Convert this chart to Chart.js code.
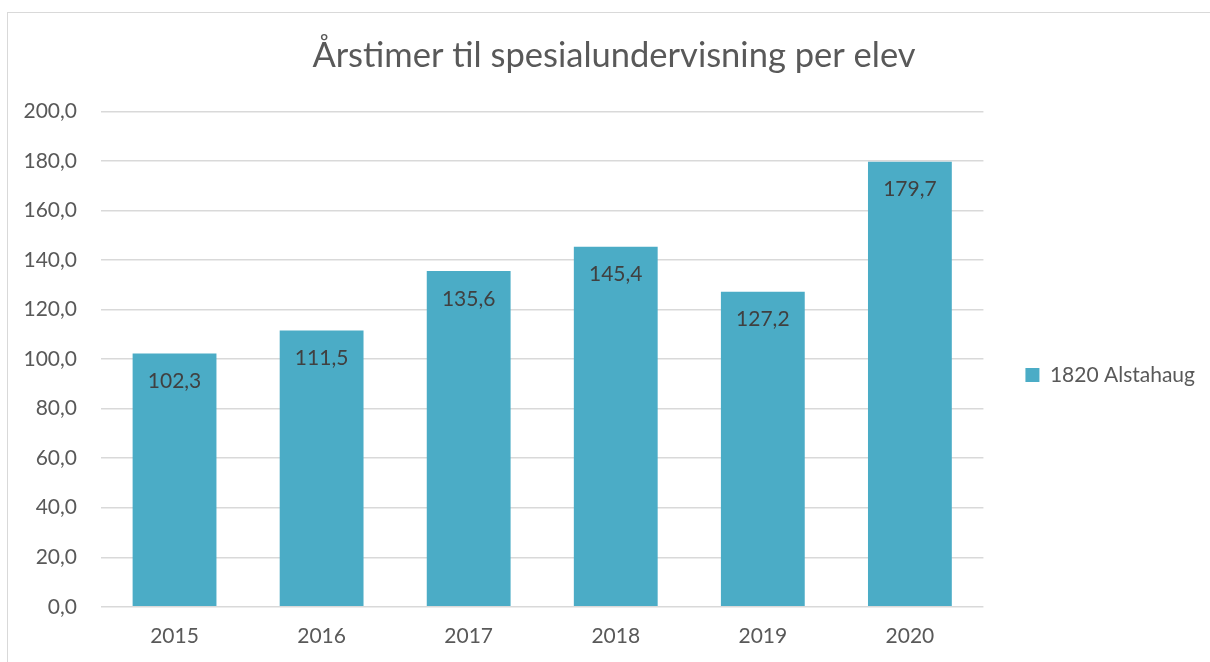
<!DOCTYPE html>
<html>
<head>
<meta charset="utf-8">
<script src="https://cdn.jsdelivr.net/npm/chart.js@4/dist/chart.umd.min.js"></script>
<style>
    body { margin: 0; background: #fff; overflow: hidden; }
    .frame {
        position: absolute; left: 7px; top: 12px; width: 1203px; height: 650px;
        border-left: 1px solid #d9d9d9; border-top: 1px solid #d9d9d9;
    }
    .chart-box { position: absolute; left: 5px; top: 13px; width: 1205px; height: 653px; }
</style>
</head>
<body>
<div class="frame"></div>
<div class="chart-box"><canvas id="chart"></canvas></div>
<script>
const years = ['2015', '2016', '2017', '2018', '2019', '2020']
const hours = [102.3, 111.5, 135.6, 145.4, 127.2, 179.7]
const seriesName = '1820 Alstahaug'
const chartTitle = 'Årstimer til spesialundervisning per elev'

const textColor = '#595959'
const fontFamily = "Lato, 'Open Sans', sans-serif"

function comma(v){
    return v.toFixed(1).replace('.', ',')
}

// value labels just inside the top of each bar
const barLabels = {
    id : 'barLabels',
    afterDatasetsDraw(chart){
        const ctx = chart.ctx
        const meta = chart.getDatasetMeta(0)
        ctx.save()
        ctx.font = '21px ' + fontFamily
        ctx.fillStyle = '#404040'
        ctx.textAlign = 'center'
        ctx.textBaseline = 'middle'
        meta.data.forEach((bar, i) => {
            ctx.fillText(comma(hours[i]), bar.x, bar.y + 28)
        })
        ctx.restore()
    }
}

new Chart(document.getElementById('chart'), {
    type : 'bar',
    data : {
        labels : years,
        datasets : [{
            label : seriesName,
            data : hours,
            backgroundColor : '#4bacc6',
            borderWidth : 0,
            categoryPercentage : 1,
            barPercentage : 0.57
        }]
    },
    plugins : [barLabels],
    options : {
        responsive : true,
        maintainAspectRatio : false,
        animation : false,
        layout : { padding : { left : 18, right : 5, top : 0, bottom : 0 } },
        plugins : {
            title : {
                display : true,
                text : chartTitle,
                color : textColor,
                font : { family : fontFamily, size : 34.5, weight : 'normal' },
                padding : { top : 22, bottom : 35 }
            },
            legend : {
                position : 'right',
                fullSize : false,
                title : { display : true, text : ' ', font : { size : 10 }, padding : 10 },
                labels : {
                    color : textColor,
                    font : { family : fontFamily, size : 21 },
                    boxWidth : 14,
                    boxHeight : 14,
                    padding : 42
                }
            },
            tooltip : { enabled : false }
        },
        scales : {
            x : {
                grid : { display : false, drawTicks : false },
                border : { display : false },
                ticks : { color : textColor, font : { family : fontFamily, size : 21 }, padding : 17 }
            },
            y : {
                min : 0,
                max : 200,
                afterFit : scale => { scale.width = 78 },
                grid : { color : '#d9d9d9', lineWidth : 1.5, drawTicks : false },
                border : { display : false },
                ticks : {
                    stepSize : 20,
                    color : textColor,
                    font : { family : fontFamily, size : 21 },
                    padding : 24,
                    callback : v => comma(v)
                }
            }
        }
    }
})
</script>
</body>
</html>
